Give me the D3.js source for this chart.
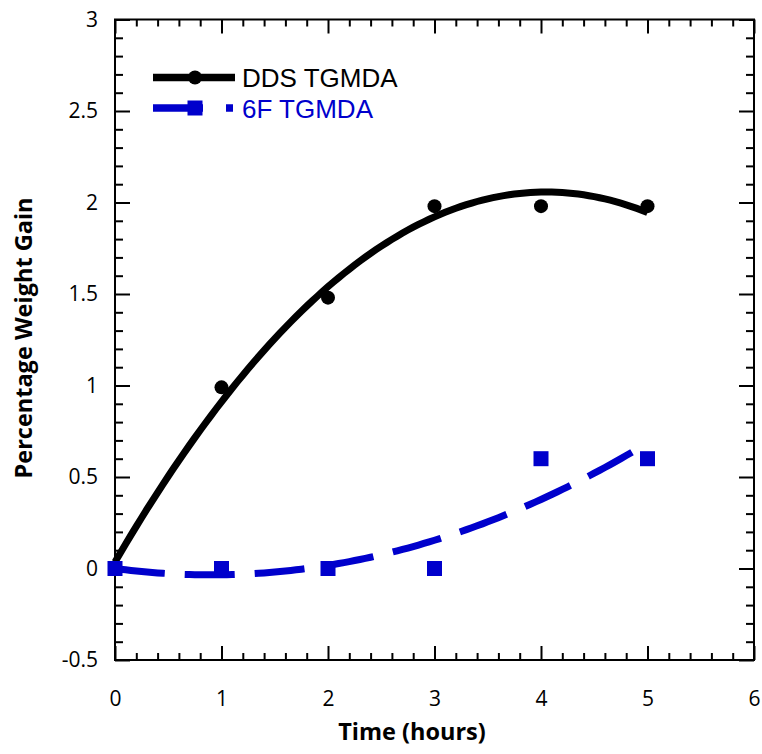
<!DOCTYPE html>
<html>
<head>
<meta charset="utf-8">
<script src="https://cdn.jsdelivr.net/npm/d3@7"></script>
<style>
  body { margin: 0; background: #fff; }
  svg { display: block; }
</style>
</head>
<body>
<div id="chart"></div>
<script>
// data
const hours = [0, 1, 2, 3, 4, 5];
const ddsGain = [0, 0.99, 1.48, 1.98, 1.98, 1.98];
const f6Gain = [0, 0, 0, 0, 0.6, 0.6];
const seriesNames = ["DDS TGMDA", "6F TGMDA"];
const xTicks = [0, 1, 2, 3, 4, 5, 6];
const yTicks = [-0.5, 0, 0.5, 1, 1.5, 2, 2.5, 3];

const W = 762, H = 754;
const blue = "#0000cc";
const tickFont = "'Open Sans', sans-serif";
const legendFont = "'Liberation Sans', Arial, sans-serif";

const x = d3.scaleLinear().domain([0, 6]).range([115, 754]);
const y = d3.scaleLinear().domain([-0.5, 3]).range([660, 19.5]);

// 二次最小平方擬合
function quadFit(xs, ys) {
  let s = [0, 0, 0, 0, 0], t = [0, 0, 0];
  xs.forEach((xv, i) => {
    for (let k = 0; k < 5; k++) s[k] += Math.pow(xv, k);
    for (let k = 0; k < 3; k++) t[k] += ys[i] * Math.pow(xv, k);
  });
  const A = [[s[0], s[1], s[2], t[0]], [s[1], s[2], s[3], t[1]], [s[2], s[3], s[4], t[2]]];
  for (let i = 0; i < 3; i++) {
    for (let j = i + 1; j < 3; j++) {
      const f = A[j][i] / A[i][i];
      for (let k = i; k < 4; k++) A[j][k] -= f * A[i][k];
    }
  }
  const c = [0, 0, 0];
  for (let i = 2; i >= 0; i--) {
    let v = A[i][3];
    for (let k = i + 1; k < 3; k++) v -= A[i][k] * c[k];
    c[i] = v / A[i][i];
  }
  return (xv) => c[0] + c[1] * xv + c[2] * xv * xv;
}

const svg = d3.select("#chart").append("svg")
  .attr("width", W).attr("height", H);

const xMinor = d3.range(0, 6.001, 0.2).filter(v => Math.abs(v - Math.round(v)) > 1e-6);
const yMinor = d3.range(-0.5, 3.001, 0.1).filter(v => Math.abs(v * 2 - Math.round(v * 2)) > 1e-6);

function styleAxis(g) {
  g.select(".domain").remove();
  g.selectAll("line").attr("stroke", "#000").attr("stroke-width", 2);
  g.selectAll("text").attr("font-family", tickFont).attr("font-size", 21).attr("fill", "#000");
}

// ticks point inward, mirrored on all four sides
// bottom
svg.append("g").attr("transform", "translate(0,660)")
  .call(d3.axisBottom(x).tickValues(xMinor).tickSize(-7).tickFormat("")).call(styleAxis);
svg.append("g").attr("transform", "translate(0,660)")
  .call(d3.axisBottom(x).tickValues(xTicks).tickSize(-14).tickPadding(31).tickFormat(d => String(d))).call(styleAxis);
// top
svg.append("g").attr("transform", "translate(0,19.5)")
  .call(d3.axisTop(x).tickValues(xMinor).tickSize(-7).tickFormat("")).call(styleAxis);
svg.append("g").attr("transform", "translate(0,19.5)")
  .call(d3.axisTop(x).tickValues(xTicks).tickSize(-14).tickFormat("")).call(styleAxis);
// left
svg.append("g").attr("transform", "translate(115,0)")
  .call(d3.axisLeft(y).tickValues(yMinor).tickSize(-8).tickFormat("")).call(styleAxis);
svg.append("g").attr("transform", "translate(115,0)")
  .call(d3.axisLeft(y).tickValues(yTicks).tickSize(-15).tickPadding(17).tickFormat(d => String(d))).call(styleAxis);
// right
svg.append("g").attr("transform", "translate(754,0)")
  .call(d3.axisRight(y).tickValues(yMinor).tickSize(-8).tickFormat("")).call(styleAxis);
svg.append("g").attr("transform", "translate(754,0)")
  .call(d3.axisRight(y).tickValues(yTicks).tickSize(-15).tickFormat("")).call(styleAxis);

// frame
svg.append("rect")
  .attr("x", x(0)).attr("y", y(3))
  .attr("width", x(6) - x(0)).attr("height", y(-0.5) - y(3))
  .attr("fill", "none").attr("stroke", "#000").attr("stroke-width", 2);

// fitted curves
const fitDDS = quadFit(hours, ddsGain);
const fit6F = quadFit(hours, f6Gain);
const xs = d3.range(0, 5.0001, 0.05);
const line = d3.line().x(d => x(d[0])).y(d => y(d[1]));

svg.append("path")
  .datum(xs.map(v => [v, fitDDS(v)]))
  .attr("d", line)
  .attr("fill", "none").attr("stroke", "#000").attr("stroke-width", 7);

svg.append("path")
  .datum(xs.map(v => [v, fit6F(v)]))
  .attr("d", line)
  .attr("fill", "none").attr("stroke", blue).attr("stroke-width", 7)
  .attr("stroke-dasharray", "50,20");

// markers
svg.selectAll(".dds").data(hours.map((h, i) => [h, ddsGain[i]]))
  .enter().append("circle")
  .attr("cx", d => x(d[0])).attr("cy", d => y(d[1]))
  .attr("r", 7).attr("fill", "#000");

svg.selectAll(".f6").data(hours.map((h, i) => [h, f6Gain[i]]))
  .enter().append("rect")
  .attr("x", d => x(d[0]) - 7.5).attr("y", d => y(d[1]) - 7.5)
  .attr("width", 15).attr("height", 15).attr("fill", blue);

// legend
const lg = svg.append("g");
lg.append("line").attr("x1", 153).attr("x2", 235).attr("y1", 77.5).attr("y2", 77.5)
  .attr("stroke", "#000").attr("stroke-width", 7.5);
lg.append("circle").attr("cx", 195).attr("cy", 77.5).attr("r", 7).attr("fill", "#000");
lg.append("text").attr("x", 242).attr("y", 86.5).text(seriesNames[0])
  .attr("font-family", legendFont).attr("font-size", 26).attr("fill", "#000");

lg.append("line").attr("x1", 153).attr("x2", 233).attr("y1", 108).attr("y2", 108)
  .attr("stroke", blue).attr("stroke-width", 7.5).attr("stroke-dasharray", "50,23");
lg.append("rect").attr("x", 195 - 7.5).attr("y", 108 - 7.5).attr("width", 15).attr("height", 15).attr("fill", blue);
lg.append("text").attr("x", 242).attr("y", 117.5).text(seriesNames[1])
  .attr("font-family", legendFont).attr("font-size", 26).attr("fill", blue);

// axis titles
svg.append("text").attr("x", 412).attr("y", 740).attr("text-anchor", "middle")
  .attr("font-family", tickFont).attr("font-weight", "bold").attr("font-size", 23.5)
  .text("Time (hours)");
svg.append("text").attr("transform", "translate(32,338) rotate(-90)").attr("text-anchor", "middle")
  .attr("font-family", tickFont).attr("font-weight", "bold").attr("font-size", 23.5)
  .text("Percentage Weight Gain");
</script>
</body>
</html>
